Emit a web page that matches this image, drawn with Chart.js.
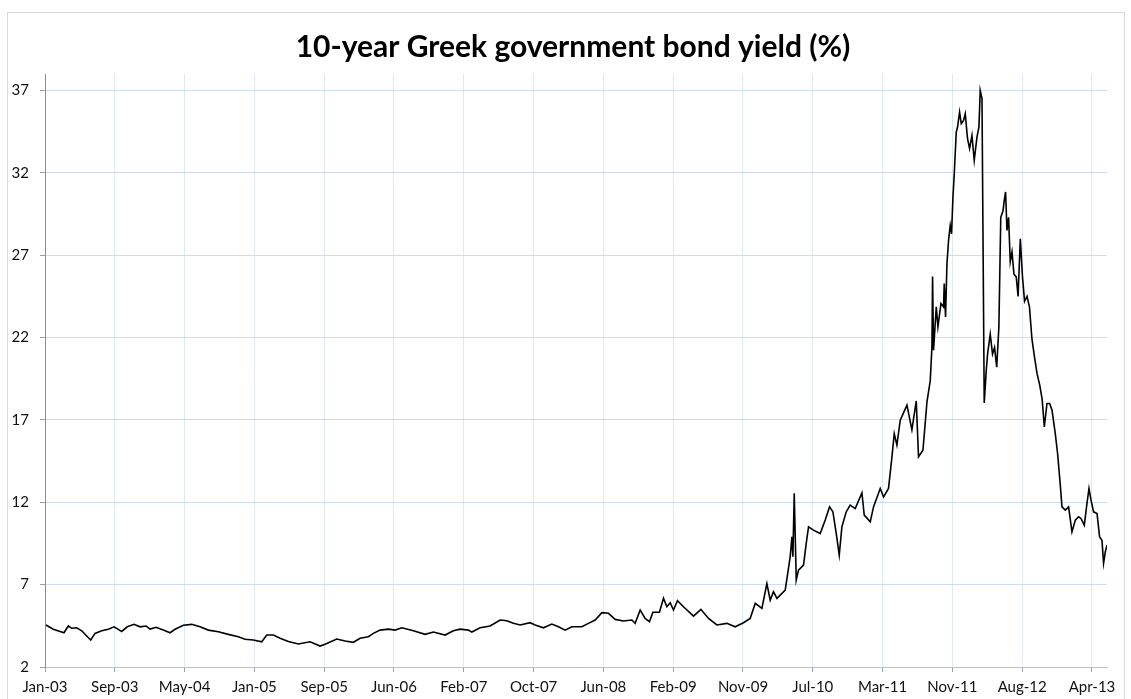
<!DOCTYPE html>
<html>
<head>
<meta charset="utf-8">
<script src="https://cdn.jsdelivr.net/npm/chart.js@4.4.0/dist/chart.umd.min.js"></script>
<style>
  html, body { margin: 0; padding: 0; background: #fff; }
  #wrap { position: absolute; left: 0; top: 0; width: 1131px; height: 699px; }
</style>
</head>
<body>
<div id="wrap"><canvas id="bondChart" width="1131" height="699"></canvas></div>
<script>
// category-axis tick labels (one every ~170 trading days)
const tickLabels = ['Jan-03', 'Sep-03', 'May-04', 'Jan-05', 'Sep-05', 'Jun-06', 'Feb-07', 'Oct-07',
  'Jun-08', 'Feb-09', 'Nov-09', 'Jul-10', 'Mar-11', 'Nov-11', 'Aug-12', 'Apr-13'];

// position along the axis, in units of tick intervals (0 = Jan-03)
const position = [
  0.014, 0.119, 0.272, 0.334, 0.383, 0.454, 0.526, 0.598, 0.655, 0.717,
  0.813, 0.907, 0.989, 1.099, 1.179, 1.275, 1.361, 1.447, 1.505, 1.591,
  1.695, 1.791, 1.863, 1.982, 2.102, 2.221, 2.340, 2.484, 2.627, 2.770,
  2.866, 2.985, 3.105, 3.177, 3.272, 3.368, 3.487, 3.630, 3.798, 3.941,
  4.013, 4.180, 4.299, 4.418, 4.514, 4.633, 4.705, 4.801, 4.920, 5.016,
  5.112, 5.278, 5.446, 5.565, 5.732, 5.851, 5.947, 6.066, 6.115, 6.234,
  6.377, 6.521, 6.616, 6.711, 6.807, 6.950, 7.022, 7.141, 7.261, 7.356,
  7.452, 7.548, 7.691, 7.786, 7.882, 7.978, 8.073, 8.169, 8.287, 8.408,
  8.455, 8.527, 8.598, 8.660, 8.709, 8.803, 8.861, 8.909, 8.957, 9.004,
  9.061, 9.147, 9.291, 9.397, 9.506, 9.626, 9.769, 9.888, 10.007, 10.103,
  10.175, 10.271, 10.342, 10.390, 10.437, 10.486, 10.605, 10.676, 10.701, 10.715,
  10.734, 10.763, 10.795, 10.867, 10.906, 10.939, 11.010, 11.106, 11.178, 11.240,
  11.288, 11.336, 11.379, 11.417, 11.479, 11.536, 11.608, 11.704, 11.737, 11.823,
  11.870, 11.966, 12.014, 12.085, 12.134, 12.167, 12.205, 12.253, 12.349, 12.420,
  12.482, 12.515, 12.578, 12.636, 12.683, 12.707, 12.716, 12.730, 12.769, 12.793,
  12.836, 12.873, 12.883, 12.902, 12.922, 12.945, 12.969, 12.988, 13.008, 13.027,
  13.055, 13.074, 13.103, 13.127, 13.160, 13.184, 13.217, 13.246, 13.280, 13.313,
  13.352, 13.380, 13.399, 13.424, 13.456, 13.485, 13.504, 13.542, 13.575, 13.604,
  13.635, 13.666, 13.693, 13.725, 13.743, 13.762, 13.782, 13.805, 13.829, 13.854,
  13.882, 13.915, 13.941, 13.973, 14.004, 14.034, 14.069, 14.104, 14.140, 14.176,
  14.212, 14.252, 14.286, 14.317, 14.355, 14.393, 14.427, 14.474, 14.507, 14.546,
  14.570, 14.617, 14.665, 14.713, 14.761, 14.808, 14.842, 14.890, 14.928, 14.957,
  14.986, 15.023, 15.072, 15.109, 15.143, 15.166, 15.191, 15.215
];

// 10-year yield, %
const yieldPct = [
  4.55, 4.29, 4.08, 4.49, 4.35, 4.38, 4.20, 3.88, 3.64, 4.04,
  4.20, 4.29, 4.44, 4.16, 4.44, 4.59, 4.44, 4.49, 4.30, 4.41,
  4.24, 4.08, 4.29, 4.53, 4.59, 4.44, 4.24, 4.14, 3.98, 3.84,
  3.68, 3.64, 3.53, 3.94, 3.94, 3.75, 3.55, 3.40, 3.53, 3.27,
  3.38, 3.70, 3.58, 3.50, 3.74, 3.84, 4.04, 4.24, 4.30, 4.24,
  4.38, 4.20, 3.98, 4.12, 3.94, 4.20, 4.30, 4.24, 4.12, 4.38,
  4.49, 4.85, 4.81, 4.65, 4.55, 4.69, 4.55, 4.38, 4.61, 4.44,
  4.24, 4.44, 4.44, 4.65, 4.85, 5.30, 5.26, 4.89, 4.79, 4.85,
  4.65, 5.46, 4.95, 4.75, 5.32, 5.32, 6.17, 5.66, 5.90, 5.46,
  6.03, 5.66, 5.09, 5.50, 4.95, 4.55, 4.65, 4.44, 4.69, 4.95,
  5.86, 5.56, 7.07, 6.06, 6.57, 6.17, 6.67, 8.69, 9.90, 8.69,
  12.54, 7.28, 7.88, 8.19, 9.50, 10.51, 10.31, 10.10, 10.92, 11.72,
  11.42, 10.10, 8.79, 10.51, 11.42, 11.83, 11.62, 12.57, 11.22, 10.81,
  11.72, 12.84, 12.33, 12.84, 14.76, 16.17, 15.47, 16.98, 17.90, 16.40,
  18.15, 14.76, 15.16, 18.10, 19.40, 21.43, 25.70, 21.23, 23.86, 22.65,
  24.07, 23.86, 25.28, 23.25, 26.48, 27.90, 28.81, 28.30, 30.53, 31.94,
  34.47, 34.78, 35.69, 34.98, 35.18, 35.59, 34.07, 33.47, 34.27, 32.76,
  34.17, 34.78, 37.00, 36.50, 18.03, 20.00, 21.00, 22.20, 21.00, 21.40,
  20.20, 22.65, 29.30, 29.70, 30.33, 30.84, 28.50, 29.30, 26.60, 27.20,
  25.85, 25.68, 24.50, 28.00, 25.70, 24.20, 24.50, 23.86, 21.90, 20.83,
  19.82, 19.10, 18.25, 16.58, 18.00, 18.00, 17.60, 16.17, 14.96, 13.04,
  11.72, 11.52, 11.72, 10.20, 10.92, 11.12, 11.02, 10.61, 11.93, 12.84,
  12.13, 11.42, 11.32, 9.90, 9.70, 8.30, 9.00, 9.40
];

const yTicks = [2, 7, 12, 17, 22, 27, 32, 37];
const chartTitle = '10-year Greek government bond yield (%)';

const points = position.map((p, i) => ({ x: p, y: yieldPct[i] }));

const fontFam = 'Lato, "Open Sans", sans-serif';

// white background, thin grey chart frame and the title (centred on the frame, not the plot)
const frame = {
  id: 'frame',
  beforeDraw(chart) {
    const ctx = chart.ctx;
    ctx.save();
    ctx.fillStyle = '#fff';
    ctx.fillRect(0, 0, chart.width, chart.height);
    ctx.strokeStyle = '#d9d9d9';
    ctx.lineWidth = 1;
    ctx.strokeRect(7.5, 12.5, 1117, 700);
    ctx.restore();
  },
  afterDraw(chart) {
    const ctx = chart.ctx;
    ctx.save();
    ctx.fillStyle = '#000';
    ctx.font = 'bold 30px ' + fontFam;
    ctx.textAlign = 'center';
    ctx.textBaseline = 'middle';
    ctx.fillText(chartTitle, 573, 47);
    ctx.restore();
  }
};

new Chart(document.getElementById('bondChart'), {
  type: 'line',
  data: {
    datasets: [{
      data: points,
      borderColor: '#000',
      borderWidth: 1.6,
      pointRadius: 0,
      tension: 0,
      fill: false
    }]
  },
  options: {
    responsive: false,
    animation: false,
    layout: { padding: { left: 0, right: 24, top: 74, bottom: 0 } },
    plugins: {
      legend: { display: false },
      tooltip: { enabled: false },
      title: { display: false }
    },
    scales: {
      x: {
        type: 'linear',
        min: 0,
        max: 15.215,
        afterBuildTicks: (s) => { s.ticks = tickLabels.map((_, i) => ({ value: i })); },
        afterFit: (s) => { s.height = 32; },
        ticks: {
          autoSkip: false,
          maxRotation: 0,
          padding: 6,
          color: '#111',
          font: { family: fontFam, size: 15 },
          callback: (v) => tickLabels[v]
        },
        grid: { color: '#dfe7f6', tickColor: '#a0a0a0', tickLength: 5 },
        border: { color: '#bfbfbf', width: 1 }
      },
      y: {
        min: 2,
        max: 38,
        afterBuildTicks: (s) => { s.ticks = yTicks.map(v => ({ value: v })); },
        afterFit: (s) => { s.width = 45; },
        ticks: {
          padding: 11,
          color: '#111',
          font: { family: fontFam, size: 15 }
        },
        grid: { color: '#ccdaf2', tickColor: '#a0a0a0', tickLength: 5 },
        border: { color: '#8c8c8c', width: 1 }
      }
    }
  },
  plugins: [frame]
});
</script>
</body>
</html>
